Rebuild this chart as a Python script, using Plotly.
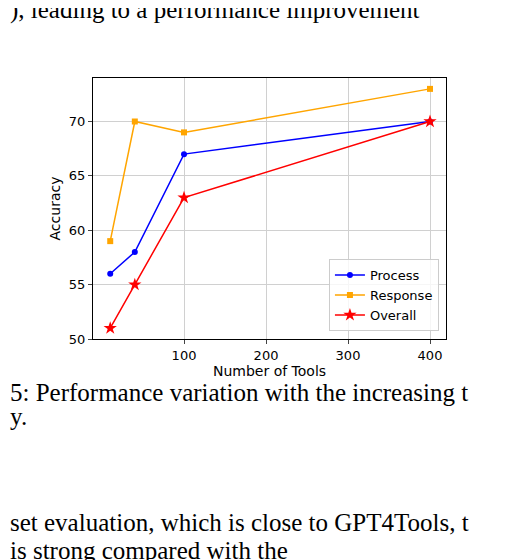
import plotly.graph_objects as go

tools = [10, 40, 100, 400]
process = [56, 58, 67, 70]
response = [59, 70, 69, 73]
overall = [51, 55, 63, 70]

fig = go.Figure()
fig.add_trace(go.Scatter(x=tools, y=process, name="Process", mode="lines+markers",
                         line=dict(color="blue", width=1.5), marker=dict(symbol="circle", size=6, color="blue")))
fig.add_trace(go.Scatter(x=tools, y=response, name="Response", mode="lines+markers",
                         line=dict(color="orange", width=1.5), marker=dict(symbol="square", size=6, color="orange")))
fig.add_trace(go.Scatter(x=tools, y=overall, name="Overall", mode="lines+markers",
                         line=dict(color="red", width=1.5), marker=dict(symbol="star", size=10, color="red")))

ax = dict(showline=True, linecolor="black", mirror=True, ticks="outside", ticklen=4,
          gridcolor="#d0d0d0", zeroline=False, tickfont=dict(size=13, color="black"))
fig.update_xaxes(range=[-11, 419.5], tickvals=[100, 200, 300, 400],
                 title=dict(text="Number of Tools", font=dict(size=14, color="black"), standoff=2), **ax)
fig.update_yaxes(range=[50, 74], tickvals=[50, 55, 60, 65, 70],
                 title=dict(text="Accuracy", font=dict(size=14, color="black"), standoff=4), **ax)

serif = dict(family="Liberation Serif", size=25, color="black")
anns = [
    ("), leading to a performance improvement", 2),
    ("5: Performance variation with the increasing t", 384),
    ("y.", 408),
    ("set evaluation, which is close to GPT4Tools, t", 514),
    ("is strong compared with the", 542),
]
for t, y in anns:
    fig.add_annotation(text=t, x=(0 - 85) / (438 - 85), y=(331 - y) / (331 - 70),
                       xref="paper", yref="paper", showarrow=False,
                       xanchor="left", yanchor="middle", font=serif)

fig.update_layout(width=512, height=560, margin=dict(l=85, r=74, t=70, b=229, autoexpand=False),
                  paper_bgcolor="white", plot_bgcolor="white",
                  font=dict(family="DejaVu Sans", color="black"),
                  legend=dict(x=0.98, y=0.03, xanchor="right", yanchor="bottom",
                              bordercolor="#cccccc", borderwidth=1, bgcolor="rgba(255,255,255,0.8)",
                              font=dict(size=13)),
                  showlegend=True)
fig.write_html("out.html")
